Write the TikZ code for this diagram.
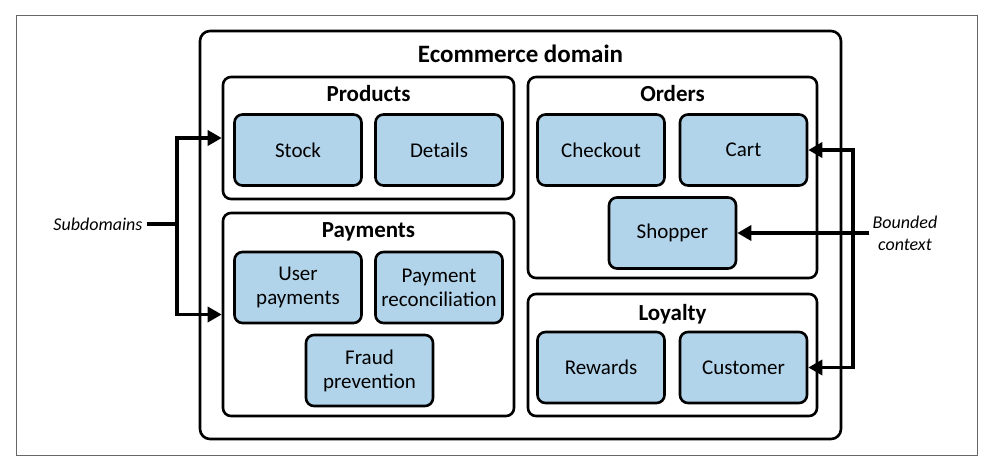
\documentclass[tikz,border=0pt]{standalone}
\usepackage{fontspec}
\setmainfont{Carlito}
\usepackage{tikz}
\usetikzlibrary{arrows.meta}
\definecolor{itemblue}{HTML}{B2D4EA}
\tikzset{
    group/.style={draw, line width=2.6pt, rounded corners=8pt, inner sep=0pt},
    item/.style={draw, line width=2.6pt, rounded corners=8pt, fill=itemblue, inner sep=0pt,
        minimum width=127pt, minimum height=71pt, align=center,
        font=\fontsize{21}{24}\selectfont},
    title/.style={anchor=base, font=\bfseries\fontsize{23}{25}\selectfont},
    note/.style={align=center, font=\itshape\fontsize{18}{22}\selectfont},
    link/.style={line width=3.4pt, -{Triangle[length=14pt, width=15pt]}},
}
\begin{document}
\begin{tikzpicture}[x=1pt, y=-1pt]
            \useasboundingbox (0, 0) rectangle (992, 468);
            \draw [gray!80!black, line width=1pt] (16, 16) rectangle (977, 455);

            \node (domain) at (520.5, 235) [group, rounded corners=10pt, minimum width=641pt, minimum height=408pt] {};
            \node (domaintitle) at (520.5, 63) [title, font=\bfseries\fontsize{25}{27}\selectfont] {Ecommerce domain};

            \node (products) at (368.5, 138) [group, minimum width=291pt, minimum height=122pt] {};
            \node (productstitle) at (368.5, 102) [title] {Products};
            \node (stock) at (298, 150) [item] {Stock};
            \node (details) at (439, 150) [item] {Details};

            \node (payments) at (368.5, 314.5) [group, minimum width=291pt, minimum height=203pt] {};
            \node (paymentstitle) at (368.5, 237) [title] {Payments};
            \node (userpay) at (298, 287.5) [item] {User\\payments};
            \node (payrec) at (439, 287.5) [item] {Payment\\reconciliation};
            \node (fraud) at (369.5, 370.5) [item] {Fraud\\prevention};

            \node (orders) at (672.5, 177.5) [group, minimum width=289pt, minimum height=201pt] {};
            \node (orderstitle) at (672.5, 102) [title] {Orders};
            \node (checkout) at (601, 150) [item] {Checkout};
            \node (cart) at (743.5, 150) [item] {Cart};
            \node (shopper) at (672.5, 233) [item] {Shopper};

            \node (loyalty) at (672.5, 355) [group, minimum width=289pt, minimum height=122pt] {};
            \node (loyaltytitle) at (672.5, 320) [title] {Loyalty};
            \node (rewards) at (601, 367.5) [item] {Rewards};
            \node (customer) at (743.5, 367.5) [item] {Customer};

            \node (subdomains) at (98, 224) [note, inner sep=4pt] {Subdomains};
            \coordinate (sdjoin) at (177, 224);
            \draw [line width=3.4pt] (subdomains.east) -- (sdjoin);
            \draw [link] (sdjoin) |- (products.west);
            \draw [link] (sdjoin) |- (payments.west);

            \node (bounded) at (905, 233) [note, inner sep=3pt] {Bounded\\context};
            \coordinate (bcjoin) at (853, 233);
            \draw [link] (bounded.west) -- (shopper.east);
            \draw [link] (bcjoin) |- (cart.east);
            \draw [link] (bcjoin) |- (customer.east);
        \end{tikzpicture}
\end{document}
